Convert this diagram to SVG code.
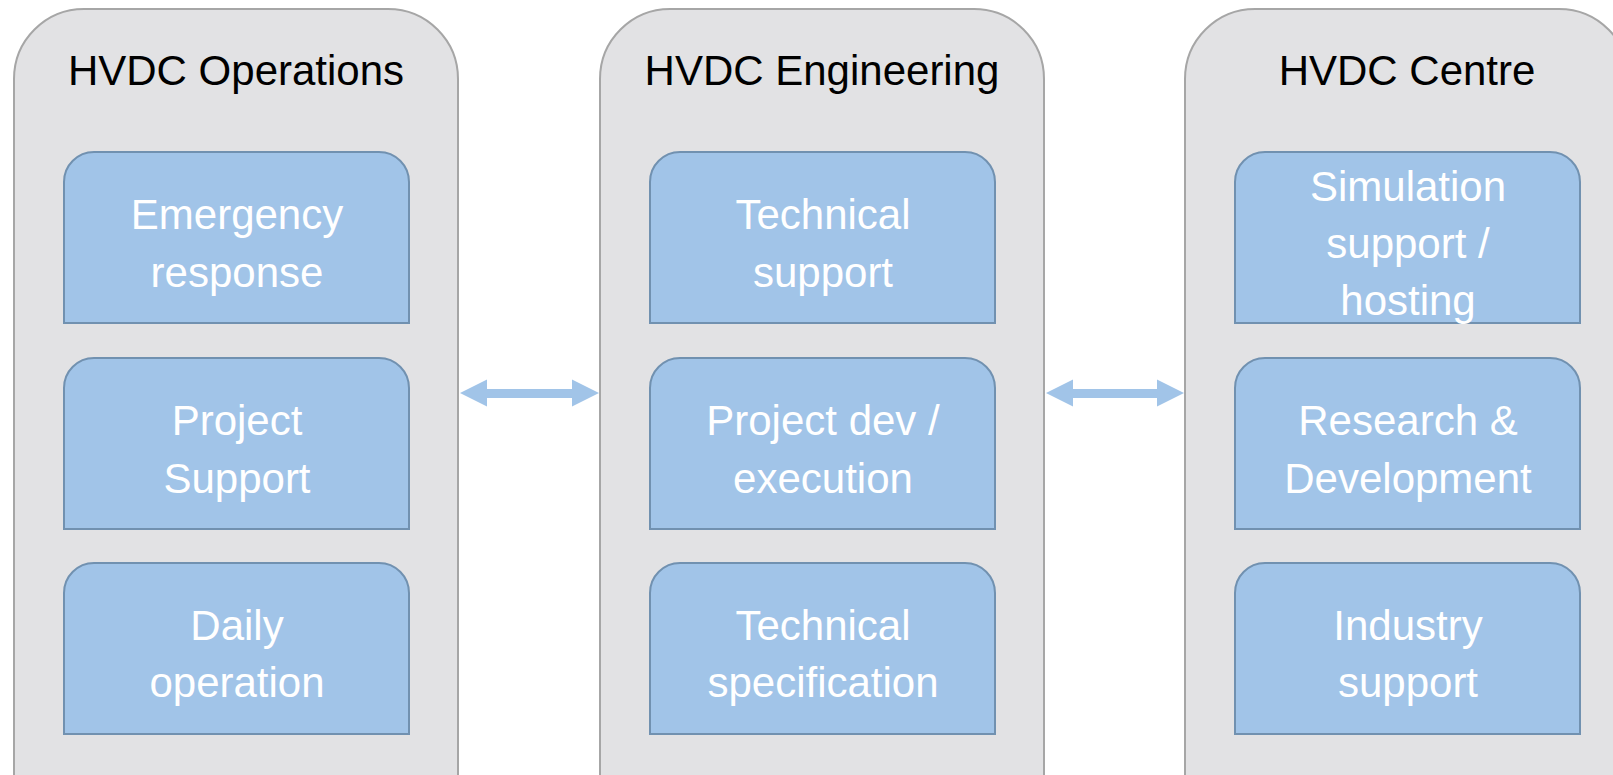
<svg xmlns="http://www.w3.org/2000/svg" width="1613" height="775" viewBox="0 0 1613 775">
  <style>
    .col { fill: #E2E2E4; stroke: #A6A6A6; stroke-width: 2; }
    .box { fill: #A1C4E8; stroke: #7191B0; stroke-width: 2; }
    .title { font-family: "Liberation Sans", Arial, sans-serif; font-size: 42px; fill: #000000; text-anchor: middle; }
    .label { font-family: "Liberation Sans", Arial, sans-serif; font-size: 42px; fill: #FFFFFF; text-anchor: middle; }
    .link { fill: #A1C4E8; }
  </style>
  <defs>
    <!-- card with rounded top corners and square bottom corners -->
    <path id="card" d="M0,171 V30 A30,30 0 0 1 30,0 H315 A30,30 0 0 1 345,30 V171 Z"/>
  </defs>
  <rect width="1613" height="775" fill="#FFFFFF"/>

  <!-- HVDC Operations -->
  <g id="operations">
    <rect class="col" x="14" y="9" width="444" height="900" rx="70" ry="70"/>
    <text class="title" x="236" y="85">HVDC Operations</text>
    <g id="emergency-response">
      <use href="#card" class="box" x="64" y="152"/>
      <text class="label" x="237" y="229">Emergency</text>
      <text class="label" x="237" y="287">response</text>
    </g>
    <g id="project-support">
      <use href="#card" class="box" x="64" y="358"/>
      <text class="label" x="237" y="435">Project</text>
      <text class="label" x="237" y="493">Support</text>
    </g>
    <g id="daily-operation">
      <use href="#card" class="box" x="64" y="563"/>
      <text class="label" x="237" y="640">Daily</text>
      <text class="label" x="237" y="697">operation</text>
    </g>
  </g>

  <!-- HVDC Engineering -->
  <g id="engineering">
    <rect class="col" x="600" y="9" width="444" height="900" rx="70" ry="70"/>
    <text class="title" x="822" y="85">HVDC Engineering</text>
    <g id="technical-support">
      <use href="#card" class="box" x="650" y="152"/>
      <text class="label" x="823" y="229">Technical</text>
      <text class="label" x="823" y="287">support</text>
    </g>
    <g id="project-dev">
      <use href="#card" class="box" x="650" y="358"/>
      <text class="label" x="823" y="435">Project dev /</text>
      <text class="label" x="823" y="493">execution</text>
    </g>
    <g id="technical-specification">
      <use href="#card" class="box" x="650" y="563"/>
      <text class="label" x="823" y="640">Technical</text>
      <text class="label" x="823" y="697">specification</text>
    </g>
  </g>

  <!-- HVDC Centre -->
  <g id="centre">
    <rect class="col" x="1185" y="9" width="444" height="900" rx="70" ry="70"/>
    <text class="title" x="1407" y="85">HVDC Centre</text>
    <g id="simulation-support">
      <use href="#card" class="box" x="1235" y="152"/>
      <text class="label" x="1408" y="201">Simulation</text>
      <text class="label" x="1408" y="258">support /</text>
      <text class="label" x="1408" y="315">hosting</text>
    </g>
    <g id="research-development">
      <use href="#card" class="box" x="1235" y="358"/>
      <text class="label" x="1408" y="435">Research &amp;</text>
      <text class="label" x="1408" y="493">Development</text>
    </g>
    <g id="industry-support">
      <use href="#card" class="box" x="1235" y="563"/>
      <text class="label" x="1408" y="640">Industry</text>
      <text class="label" x="1408" y="697">support</text>
    </g>
  </g>

  <!-- two-way links between the columns -->
  <g id="connectors">
    <polygon class="link" points="460,393 487,379.5 487,389 572,389 572,379.5 599,393 572,406.5 572,398 487,398 487,406.5"/>
    <polygon class="link" points="1046,393 1073,379.5 1073,389 1157,389 1157,379.5 1184,393 1157,406.5 1157,398 1073,398 1073,406.5"/>
  </g>
</svg>
